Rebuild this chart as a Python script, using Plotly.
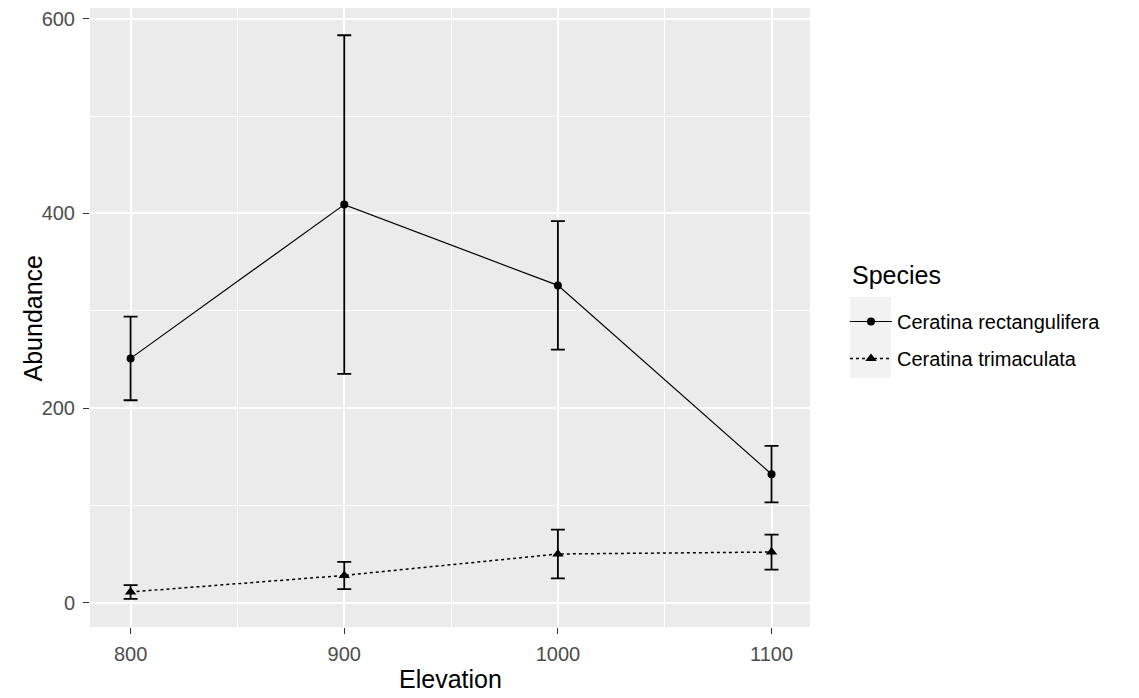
import plotly.graph_objects as go

# Mean abundance (with error) of two Ceratina species along an elevation gradient
elevation = [800, 900, 1000, 1100]

rect_mean = [251, 409, 326, 132]
rect_err = [43, 174, 66, 29]

trim_mean = [11, 28, 50, 52]
trim_err = [7, 14, 25, 18]

species = ["Ceratina rectangulifera", "Ceratina trimaculata"]

W, H = 1139, 698
L, R, T, B = 90, 329, 8, 71
FONT = "Liberation Sans, Arial, sans-serif"

fig = go.Figure()

fig.add_trace(go.Scatter(
    x=elevation, y=rect_mean, name=species[0], legendgroup="a",
    mode="lines+markers",
    line=dict(color="black", width=1.2),
    marker=dict(symbol="circle", size=8, color="black"),
    error_y=dict(type="data", array=rect_err, color="black", thickness=1.8, width=7),
))

fig.add_trace(go.Scatter(
    x=elevation, y=trim_mean, name=species[1], legendgroup="b",
    mode="lines+markers",
    line=dict(color="black", width=1.5, dash="3px,3px"),
    marker=dict(symbol="triangle-up", size=10, color="black"),
    error_y=dict(type="data", array=trim_err, color="black", thickness=1.8, width=7),
))

pw = W - L - R
ph = H - T - B

def px_x(p):
    return (p - L) / pw

def px_y(p):
    return (H - B - p) / ph

# grey backdrop behind the legend keys
fig.add_shape(type="rect", xref="paper", yref="paper",
              x0=px_x(850), x1=px_x(891), y0=px_y(378), y1=px_y(297),
              fillcolor="#F2F2F2", line_width=0, layer="below")

axis_common = dict(
    showline=False, zeroline=False,
    gridcolor="white", gridwidth=2,
    ticks="outside", ticklen=6, tickwidth=1.2, tickcolor="#333333",
    tickfont=dict(family=FONT, size=20, color="#4D4D4D"),
)

title_font = dict(family=FONT, size=25, color="black")

fig.update_layout(
    width=W, height=H,
    margin=dict(l=L, r=R, t=T, b=B, pad=0),
    paper_bgcolor="white",
    plot_bgcolor="#EBEBEB",
    font=dict(family=FONT, color="black"),
    xaxis=dict(
        range=[781, 1118], tickvals=[800, 900, 1000, 1100],
        ticklabelstandoff=3,
        minor=dict(tickvals=[850, 950, 1050], showgrid=True, gridcolor="white", gridwidth=1, ticks=""),
        **axis_common,
    ),
    yaxis=dict(
        range=[-25, 611], tickvals=[0, 200, 400, 600],
        ticklabelstandoff=4,
        minor=dict(tickvals=[100, 300, 500], showgrid=True, gridcolor="white", gridwidth=1, ticks=""),
        **axis_common,
    ),
    legend=dict(
        x=px_x(845), y=px_y(302), xanchor="left", yanchor="top",
        font=dict(family=FONT, size=20, color="black"),
        bgcolor="rgba(0,0,0,0)",
        tracegroupgap=8,
        itemwidth=42,
    ),
    annotations=[
        dict(text="Elevation", xref="paper", yref="paper", x=0.5, y=px_y(679),
             xanchor="center", yanchor="middle", showarrow=False, font=title_font),
        dict(text="Abundance", xref="paper", yref="paper", x=px_x(32), y=0.5,
             xanchor="center", yanchor="middle", textangle=-90, showarrow=False, font=title_font),
        dict(text="Species", xref="paper", yref="paper", x=px_x(850), y=px_y(275),
             xanchor="left", yanchor="middle", showarrow=False, font=title_font),
    ],
)

fig.write_html("out.html")
